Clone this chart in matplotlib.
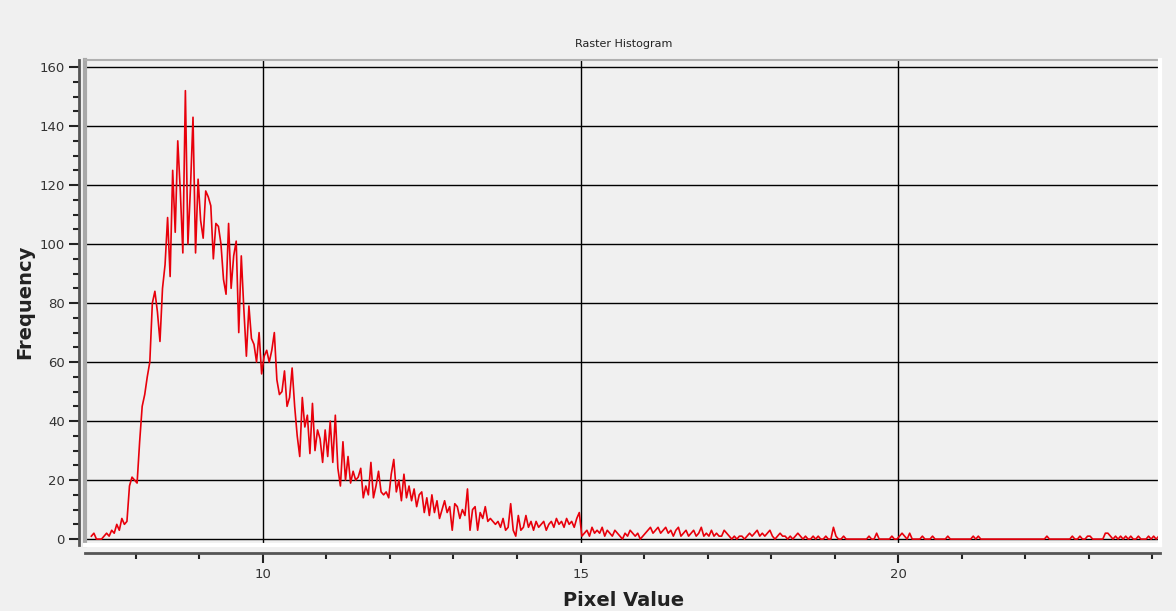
import numpy as np
import matplotlib
matplotlib.use('Agg')
import matplotlib.pyplot as plt
from matplotlib.lines import Line2D
from matplotlib.ticker import MultipleLocator

# histogram bins: start value and width, one row = one pixel-value unit
bin_start = 7.30
bin_width = 0.04

freq_rows = [
    [1, 2, 0, 0, 0, 1, 2, 1, 3, 2, 5, 3, 7, 5, 6, 18, 21, 20, 19, 33, 45, 49, 55, 60, 80],
    [84, 77, 67, 85, 93, 109, 89, 125, 104, 135, 118, 97, 152, 100, 119, 143, 97, 122, 108, 102, 118, 116, 113, 95, 107],
    [106, 100, 88, 83, 107, 85, 96, 101, 70, 96, 78, 62, 79, 68, 66, 60, 70, 56, 62, 64, 60, 64, 70, 54, 49],
    [50, 57, 45, 48, 58, 45, 35, 28, 48, 38, 42, 29, 46, 30, 37, 34, 26, 37, 28, 40, 26, 42, 24, 18, 33],
    [20, 28, 19, 23, 20, 21, 24, 14, 18, 15, 26, 14, 18, 23, 16, 15, 16, 14, 22, 27, 16, 20, 13, 22, 14],
    [18, 13, 17, 11, 15, 16, 9, 14, 8, 15, 9, 13, 7, 10, 13, 9, 11, 3, 12, 11, 7, 10, 8, 17, 3],
    [10, 11, 3, 9, 7, 11, 6, 7, 6, 5, 6, 4, 7, 3, 4, 12, 3, 1, 8, 3, 4, 8, 4, 6, 3],
    [6, 4, 5, 6, 3, 5, 6, 4, 7, 5, 6, 4, 7, 5, 6, 4, 7, 9, 1, 2, 3, 1, 4, 2, 3],
    [2, 4, 1, 3, 2, 1, 3, 2, 1, 0, 2, 1, 3, 2, 1, 2, 0, 1, 2, 3, 4, 2, 3, 4, 2],
    [3, 4, 2, 3, 1, 3, 4, 1, 2, 3, 1, 2, 3, 1, 2, 4, 1, 2, 1, 3, 1, 2, 1, 1, 3],
    [2, 1, 0, 1, 0, 1, 1, 0, 1, 2, 1, 2, 3, 1, 2, 1, 2, 3, 1, 0, 1, 2, 1, 1, 0],
    [1, 0, 1, 2, 1, 0, 1, 0, 0, 1, 0, 1, 0, 0, 1, 0, 0, 4, 1, 0, 0, 1, 0, 0, 0],
    [0, 0, 0, 0, 0, 0, 1, 0, 0, 2, 0, 0, 0, 0, 0, 1, 0, 0, 1, 2, 1, 0, 2, 0, 0],
    [0, 0, 1, 0, 0, 0, 1, 0, 0, 0, 0, 0, 1, 0, 0, 0, 0, 0, 0, 0, 0, 0, 1, 0, 1],
    [0, 0, 0, 0, 0, 0, 0, 0, 0, 0, 0, 0, 0, 0, 0, 0, 0, 0, 0, 0, 0, 0, 0, 0, 0],
    [0, 1, 0, 0, 0, 0, 0, 0, 0, 0, 0, 1, 0, 0, 1, 0, 0, 1, 1, 0, 0, 0, 0, 0, 2],
    [2, 1, 0, 1, 0, 1, 0, 1, 0, 1, 0, 0, 1, 0, 0, 0, 1, 0, 1, 0, 1],
]

frequencia = np.concatenate([np.array(r, dtype=float) for r in freq_rows])
pixel_value = bin_start + bin_width * np.arange(len(frequencia))

fundo = '#f0f0f0'
fig = plt.figure(figsize=(11.76, 6.11), dpi=100, facecolor=fundo)
ax = fig.add_axes([85 / 1176, 1 - 545 / 611, (1160 - 85) / 1176, (545 - 60) / 611])
ax.set_facecolor(fundo)

ax.plot(pixel_value, frequencia, color='#e8000b', linewidth=1.2, zorder=3)

ax.set_xlim(7.2, 24.12)
ax.set_ylim(-2, 162.4)

ax.xaxis.set_major_locator(MultipleLocator(5))
ax.xaxis.set_minor_locator(MultipleLocator(1))
ax.yaxis.set_major_locator(MultipleLocator(20))
ax.yaxis.set_minor_locator(MultipleLocator(5))
ax.grid(True, which='major', color='black', linewidth=1.0, zorder=1)

# moldura do canvas: cinzento em cima/esquerda, branco em baixo/direita
for xs, ys, cor, lw in [([0, 0], [0, 1], '#a8a8a8', 3), ([0, 1], [1, 1], '#b0b0b0', 1.5),
                        ([0, 1], [0, 0], 'white', 3), ([1, 1], [0, 1], 'white', 3)]:
    ax.add_line(Line2D(xs, ys, transform=ax.transAxes, color=cor, linewidth=lw,
                       clip_on=False, zorder=4))

for s in ['top', 'right']:
    ax.spines[s].set_visible(False)
ax.spines['left'].set_position(('outward', 4))
ax.spines['bottom'].set_position(('outward', 6))
ax.spines['left'].set_color('#555555')
ax.spines['bottom'].set_color('#555555')
ax.spines['left'].set_linewidth(2)
ax.spines['bottom'].set_linewidth(2)

ax.tick_params(which='major', length=7, width=1.5, color='#222222',
               labelsize=9.5, labelcolor='#333333')
ax.tick_params(which='minor', length=4, width=1.5, color='#222222')

fig.text(624 / 1176, 1 - 44 / 611, 'Raster Histogram', ha='center', va='center',
         fontsize=8, color='#222222')
fig.text(25 / 1176, 1 - 302 / 611, 'Frequency', ha='center', va='center',
         rotation=90, fontsize=14, fontweight='bold', color='#222222')
fig.text(624 / 1176, 1 - 600 / 611, 'Pixel Value', ha='center', va='center',
         fontsize=14, fontweight='bold', color='#222222')

plt.savefig('out.png', dpi=100, facecolor=fundo)
plt.close()
